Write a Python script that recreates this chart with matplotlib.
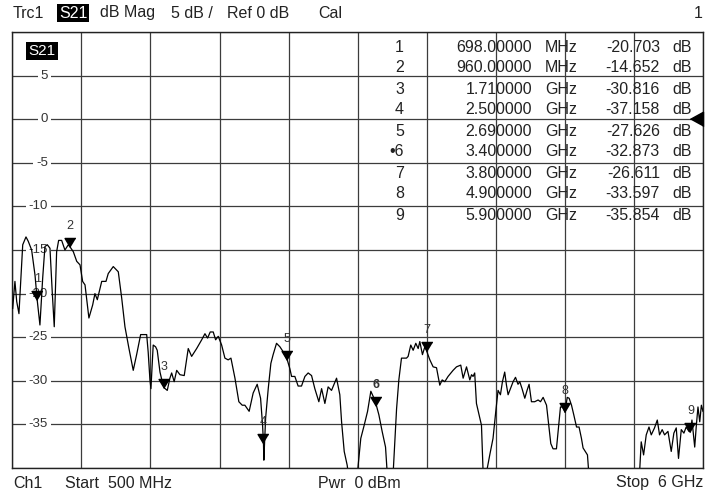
import matplotlib

matplotlib.use("Agg")

import matplotlib.pyplot as plt
import numpy as np

plt.rcParams["font.family"] = ["Liberation Sans", "DejaVu Sans"]

# S21 trace (GHz, dB)
freq_ghz = [
    0.503, 0.521, 0.535, 0.553, 0.583, 0.609, 0.627, 0.654, 0.681, 0.698,
    0.720, 0.742, 0.760, 0.779, 0.800, 0.818, 0.834, 0.853, 0.869, 0.893,
    0.919, 0.946, 0.960, 0.986, 1.013, 1.039, 1.060, 1.079, 1.110, 1.140,
    1.158, 1.177, 1.212, 1.246, 1.264, 1.304, 1.344, 1.371, 1.397, 1.429,
    1.463, 1.490, 1.522, 1.570, 1.582, 1.596, 1.604, 1.622, 1.641, 1.654,
    1.676, 1.694, 1.710, 1.734, 1.755, 1.769, 1.789, 1.809, 1.835, 1.869,
    1.901, 1.928, 1.968, 2.008, 2.034, 2.055, 2.076, 2.100, 2.119, 2.140,
    2.167, 2.193, 2.219, 2.241, 2.273, 2.304, 2.331, 2.352, 2.386, 2.418,
    2.450, 2.477, 2.493, 2.500, 2.503, 2.517, 2.538, 2.559, 2.577, 2.604,
    2.631, 2.663, 2.690, 2.710, 2.724, 2.750, 2.776, 2.803, 2.830, 2.856,
    2.883, 2.909, 2.941, 2.963, 2.989, 3.015, 3.042, 3.082, 3.108, 3.122,
    3.143, 3.167, 3.190, 3.220, 3.242, 3.254, 3.275, 3.302, 3.329, 3.355,
    3.374, 3.400, 3.419, 3.445, 3.472, 3.485, 3.506, 3.533, 3.560, 3.578,
    3.599, 3.639, 3.652, 3.673, 3.692, 3.713, 3.732, 3.745, 3.766, 3.785,
    3.800, 3.825, 3.851, 3.878, 3.904, 3.923, 3.944, 3.970, 4.010, 4.037,
    4.071, 4.090, 4.117, 4.143, 4.157, 4.169, 4.182, 4.196, 4.217, 4.236,
    4.249, 4.262, 4.276, 4.302, 4.328, 4.350, 4.368, 4.387, 4.403, 4.421,
    4.435, 4.448, 4.467, 4.488, 4.507, 4.527, 4.541, 4.559, 4.581, 4.599,
    4.615, 4.634, 4.660, 4.687, 4.706, 4.727, 4.754, 4.772, 4.788, 4.806,
    4.833, 4.846, 4.865, 4.886, 4.900, 4.919, 4.934, 4.953, 4.971, 4.993,
    5.013, 5.032, 5.045, 5.072, 5.080, 5.090, 5.200, 5.350, 5.495, 5.508,
    5.527, 5.548, 5.570, 5.588, 5.614, 5.636, 5.654, 5.675, 5.694, 5.721,
    5.747, 5.768, 5.787, 5.805, 5.827, 5.848, 5.866, 5.888, 5.900, 5.912,
    5.934, 5.947, 5.960, 5.974, 5.987, 6.000,
]

s21_db = [
    -21.7, -18.6, -20.9, -22.3, -14.4, -13.5, -14.0, -15.0, -17.9, -20.703,
    -23.6, -18.2, -14.6, -14.4, -14.8, -19.8, -23.8, -15.2, -13.9, -13.9,
    -15.0, -14.4, -14.652, -15.2, -16.3, -16.7, -18.6, -19.0, -22.8, -21.3,
    -20.0, -20.7, -18.6, -18.6, -17.7, -16.9, -17.5, -20.5, -23.8, -26.3,
    -28.8, -27.0, -24.7, -24.7, -26.7, -29.9, -30.9, -25.9, -26.1, -26.5,
    -29.0, -30.1, -30.816, -31.1, -29.7, -29.1, -30.1, -28.8, -29.3, -29.4,
    -26.3, -27.2, -26.3, -25.3, -24.6, -25.1, -24.4, -24.4, -25.3, -24.9,
    -25.9, -27.4, -27.6, -27.4, -29.7, -32.4, -32.8, -32.8, -33.5, -31.4,
    -30.4, -32.0, -35.1, -37.158, -39.1, -34.3, -30.9, -28.0, -27.0, -25.7,
    -26.1, -26.8, -27.626, -28.6, -29.5, -29.5, -30.6, -30.6, -29.5, -29.1,
    -29.4, -30.9, -32.4, -30.9, -32.6, -30.7, -31.1, -29.7, -31.6, -34.7,
    -38.1, -39.7, -42.5, -43.5, -42.0, -39.7, -36.6, -35.1, -33.5, -31.2,
    -31.8, -32.873, -33.9, -35.8, -37.6, -40.5, -43.0, -40.5, -33.2, -29.9,
    -27.4, -27.4, -27.2, -25.9, -26.5, -25.7, -26.3, -25.5, -27.0, -26.1,
    -26.611, -27.6, -28.4, -28.5, -30.5, -29.9, -30.1, -29.5, -28.8, -28.4,
    -28.2, -29.7, -28.4, -29.9, -29.3, -29.5, -29.1, -32.6, -33.9, -35.1,
    -40.5, -42.0, -40.5, -38.5, -36.6, -33.5, -31.1, -31.6, -30.1, -29.0,
    -30.5, -31.6, -30.9, -30.1, -29.6, -30.4, -30.1, -30.9, -32.0, -31.1,
    -30.4, -32.4, -32.4, -32.2, -32.4, -31.9, -32.8, -35.1, -37.2, -37.8,
    -37.8, -35.8, -33.0, -33.0, -33.597, -31.9, -32.0, -32.8, -33.9, -35.3,
    -35.3, -36.6, -37.7, -38.3, -38.5, -40.5, -44.0, -45.0, -40.5, -37.0,
    -38.5, -36.2, -35.3, -36.2, -35.4, -34.5, -36.2, -35.6, -36.2, -35.8,
    -38.1, -36.0, -35.4, -38.9, -35.6, -36.0, -35.3, -35.8, -35.854, -34.5,
    -37.6, -35.1, -33.0, -34.7, -32.8, -33.5,
]

marker_ids = ["1", "2", "3", "4", "5", "6", "7", "8", "9"]
marker_freq_ghz = [0.698, 0.960, 1.710, 2.500, 2.690, 3.400, 3.800, 4.900, 5.900]
marker_db = [-20.703, -14.652, -30.816, -37.158, -27.626, -32.873,
             -26.611, -33.597, -35.854]
active_marker = "6"

y_ticks = [5, 0, -5, -10, -15, -20, -25, -30, -35]

W, H = 713, 492


def px_x(x):
    return x / W


def px_y(y):
    return 1 - y / H


fig = plt.figure(figsize=(W / 100, H / 100), dpi=100)
ax = fig.add_axes([12.3 / W, 24 / H, 690.7 / W, 436 / H])

ax.set_xlim(0.5, 6.0)
ax.set_ylim(-40, 10)
ax.set_xticks(np.linspace(0.5, 6.0, 11))
ax.set_yticks(np.arange(-40, 11, 5))
ax.tick_params(length=0, labelbottom=False, labelleft=False)
ax.set_axisbelow(True)
ax.grid(True, color="#3c3c3c", linewidth=0.9)
for sp in ax.spines.values():
    sp.set_color("#222222")
    sp.set_linewidth(1.0)

# trace
ax.plot(freq_ghz, s21_db, color="black", linewidth=0.9, zorder=4)

# y labels sit on the grid lines inside the plot
for v in y_ticks:
    ax.text(0.0517, v, str(v), transform=ax.get_yaxis_transform(),
            ha="right", va="center", fontsize=9.5, color="#333333",
            bbox=dict(facecolor="white", edgecolor="none", pad=2.2),
            zorder=3)

# markers: triangle tip on the trace, number above
tri = [(0, 0), (-0.6, 1), (0.6, 1)]
ax.plot(marker_freq_ghz, marker_db, linestyle="none", marker=tri,
        markersize=13, color="black", zorder=5)
for mid, f, v in zip(marker_ids, marker_freq_ghz, marker_db):
    ax.annotate(mid, (f, v), xytext=(0, 15), textcoords="offset points",
                ha="center", va="center", fontsize=9, color="#333333",
                fontweight="bold" if mid == active_marker else "normal",
                zorder=5)

# reference level arrow at 0 dB
ref_tri = [(-1, 0), (0, 0.55), (0, -0.55)]
ax.plot([1.0], [0], transform=ax.get_yaxis_transform(), marker=ref_tri,
        markersize=19, color="black", clip_on=False, zorder=6)

# in-plot trace name
ax.text((28 - 12.3) / 690.7, (468 - 51) / 436, "S21", transform=ax.transAxes,
        ha="left", va="center", fontsize=11, color="white",
        bbox=dict(facecolor="black", edgecolor="none", pad=1.8), zorder=6)

# marker table
for i, (mid, f, v) in enumerate(zip(marker_ids, marker_freq_ghz, marker_db)):
    ty = px_y(47 + 21 * i)
    label = ("\u2022" + mid) if mid == active_marker else mid
    if f < 1:
        ftxt, unit = f"{f * 1000:.5f}", "MHz"
    else:
        ftxt, unit = f"{f:.6f}", "GHz"
    kw = dict(fontsize=11.5, va="center", color="#222222")
    fig.text(px_x(404), ty, label, ha="right", **kw)
    fig.text(px_x(532), ty, ftxt, ha="right", **kw)
    fig.text(px_x(545), ty, unit, ha="left", **kw)
    fig.text(px_x(660), ty, f"{v:.3f}", ha="right", **kw)
    fig.text(px_x(672), ty, "dB", ha="left", **kw)

# header line
hy = px_y(13)
hkw = dict(fontsize=11.5, va="center", color="#222222")
fig.text(px_x(13), hy, "Trc1", ha="left", **hkw)
fig.text(px_x(59), hy, "S21", ha="left", fontsize=11.5, va="center",
         color="white", bbox=dict(facecolor="black", edgecolor="none", pad=1.2))
fig.text(px_x(100), hy, "dB Mag", ha="left", **hkw)
fig.text(px_x(171), hy, "5 dB /", ha="left", **hkw)
fig.text(px_x(227), hy, "Ref 0 dB", ha="left", **hkw)
fig.text(px_x(318), hy, "Cal", ha="left", **hkw)
fig.text(px_x(703), hy, "1", ha="right", **hkw)

# footer line
fy = px_y(483)
fig.text(px_x(13), fy, "Ch1", ha="left", **hkw)
fig.text(px_x(65), fy, "Start  500 MHz", ha="left", **hkw)
fig.text(px_x(318), fy, "Pwr  0 dBm", ha="left", **hkw)
fig.text(px_x(703), fy, "Stop  6 GHz", ha="right", **hkw)

fig.savefig("out.png", dpi=100, facecolor="white")
